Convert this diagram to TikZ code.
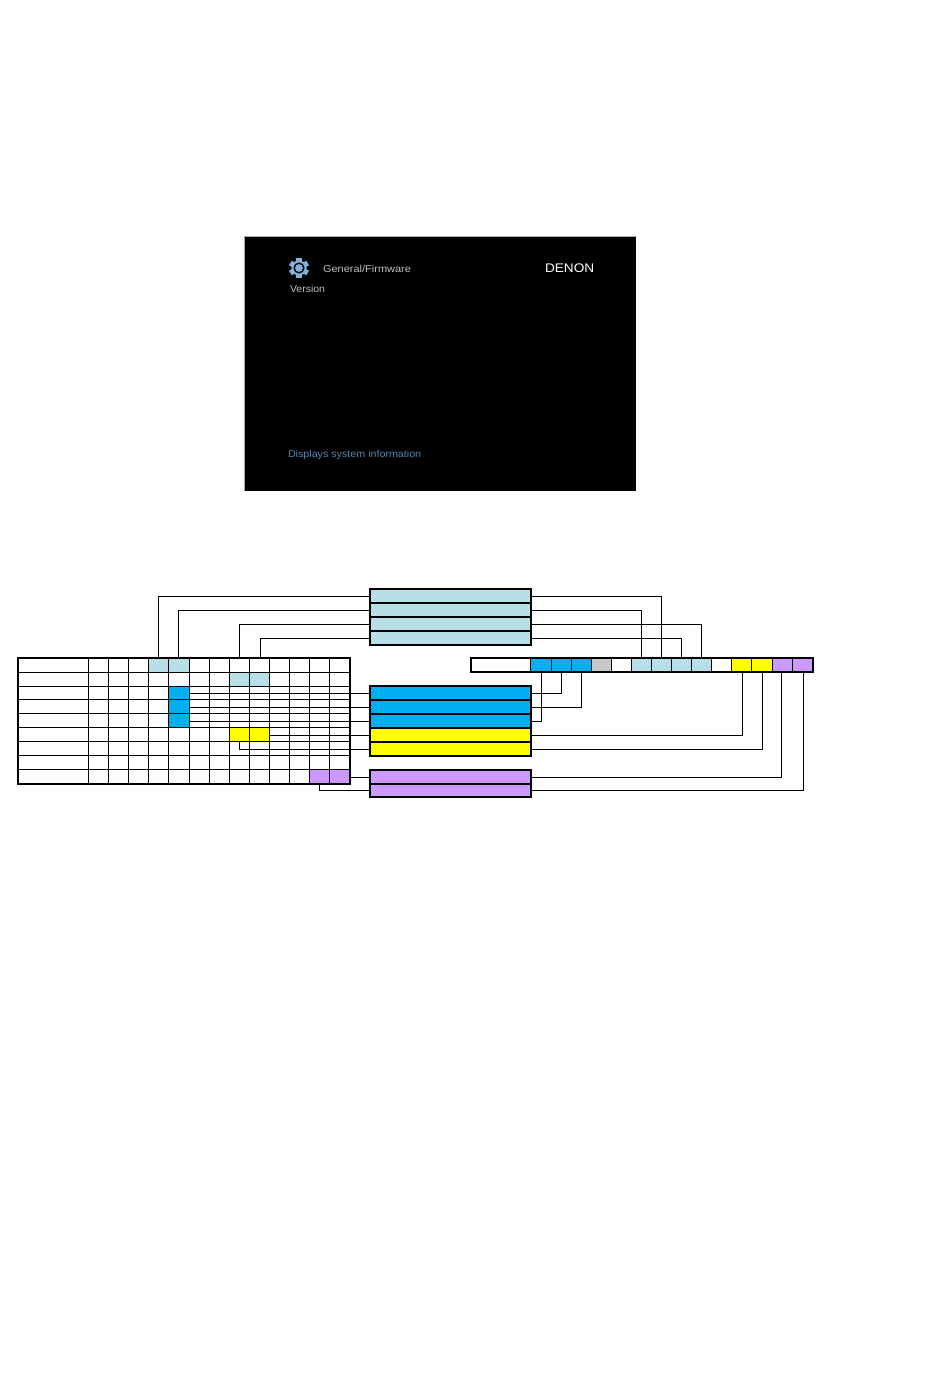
\documentclass[tikz,border=0pt]{standalone}
\usepackage{fontspec}
\setmainfont{Liberation Sans}
\definecolor{lb}{HTML}{B8DEE8}
\definecolor{bl}{HTML}{00B0F0}
\definecolor{ye}{HTML}{FFFF00}
\definecolor{pu}{HTML}{CC99FF}
\definecolor{gy}{HTML}{C8C8C8}
\definecolor{edgec}{HTML}{A8A8A8}
\definecolor{gearc}{HTML}{7FB2DC}
\definecolor{helpc}{HTML}{5585AE}
\definecolor{titlec}{HTML}{BDBDBD}
\tikzset{
  cellbox/.style={draw=black,line width=1pt,inner sep=0pt,outer sep=0pt,rectangle},
  midbox/.style={draw=black,line width=1.7pt,inner sep=0pt,outer sep=0pt,rectangle},
  link/.style={draw=black,line width=1pt},
  frameline/.style={draw=black,line width=2pt},
  screentext/.style={inner sep=0pt,outer sep=0pt,anchor=west,font=\fontsize{10}{12}\selectfont}
}
\newcommand{\placebox}[7]{%
  \pgfmathsetmacro{\bw}{#4-#2}\pgfmathsetmacro{\bh}{#5-#3}%
  \pgfmathsetmacro{\bx}{(#4+#2)/2}\pgfmathsetmacro{\by}{(#5+#3)/2}%
  \node[#7,fill=#6,minimum width=\bw pt,minimum height=\bh pt] (#1) at (\bx,\by) {};}
\expandafter\def\csname tf-0-4\endcsname{lb}
\expandafter\def\csname tf-0-5\endcsname{lb}
\expandafter\def\csname tf-1-8\endcsname{lb}
\expandafter\def\csname tf-1-9\endcsname{lb}
\expandafter\def\csname tf-2-5\endcsname{bl}
\expandafter\def\csname tf-3-5\endcsname{bl}
\expandafter\def\csname tf-4-5\endcsname{bl}
\expandafter\def\csname tf-5-8\endcsname{ye}
\expandafter\def\csname tf-5-9\endcsname{ye}
\expandafter\def\csname tf-8-12\endcsname{pu}
\expandafter\def\csname tf-8-13\endcsname{pu}
\begin{document}
\begin{tikzpicture}[x=1pt,y=-1pt]
\useasboundingbox (0,0) rectangle (950,1387);
\fill[white] (0,0) rectangle (950,1387);
% screen
\fill[black] (244,237) rectangle (635.5,490.5);
\draw[edgec,line width=1pt] (244,490.5) -- (244,236.5) -- (635.5,236.5);
\begin{scope}[shift={(299,268)}]
  \foreach \a in {0,60,...,300}
    \fill[gearc,rotate=\a] (-2.6,-10) rectangle (2.6,0);
  \fill[gearc] (0,0) circle (7.6);
  \fill[black] (0,0) circle (5.6);
  \fill[gearc] (0,0) circle (3.9);
\end{scope}
\node[screentext,text=titlec] (title) at (323,268.5) {\scalebox{1.1}[1]{General/Firmware}};
\node[screentext,text=titlec] (version) at (290,288.5) {\scalebox{1.05}[1]{Version}};
\node[screentext,text=white,font=\fontsize{12.5}{14}\selectfont] (brand) at (545,268) {\scalebox{1.09}[1]{DENON}};
\node[screentext,text=helpc] (help) at (288,454.5) {\scalebox{1.07}[1]{Displays system information}};
% left table
\foreach \r/\ya/\yb in {0/658/672.3,1/672.3/686.3,2/686.3/699.3,3/699.3/713.3,4/713.3/727.3,5/727.3/741.3,6/741.3/755.3,7/755.3/769.3,8/769.3/783.7}{
  \foreach \c/\xa/\xb in {0/18/88.5,1/88.5/108.5,2/108.5/128.5,3/128.5/148.5,4/148.5/168.5,5/168.5/189.3,6/189.3/209.3,7/209.3/229.3,8/229.3/249.3,9/249.3/269.3,10/269.3/289.3,11/289.3/309.3,12/309.3/329.5,13/329.5/350}{
    \edef\thefill{\ifcsname tf-\r-\c\endcsname\csname tf-\r-\c\endcsname\else white\fi}
    \placebox{t-\r-\c}{\xa}{\ya}{\xb}{\yb}{\thefill}{cellbox}
  }
}
\draw[frameline] (t-0-0.north west) rectangle (t-8-13.south east);
% right bar
\foreach \c/\xa/\xb/\f in {0/471/530.5/white,1/530.5/551/bl,2/551/571.5/bl,3/571.5/591.5/bl,4/591.5/611.5/gy,5/611.5/631.5/white,6/631.5/651.5/lb,7/651.5/671.5/lb,8/671.5/691.5/lb,9/691.5/711.5/lb,10/711.5/731.5/white,11/731.5/751.5/ye,12/751.5/772/ye,13/772/792.5/pu,14/792.5/813/pu}{
  \placebox{b-\c}{\xa}{658}{\xb}{672}{\f}{cellbox}
}
\draw[frameline] (b-0.north west) rectangle (b-14.south east);
% middle boxes
\foreach \n/\ya/\yb/\f in {1/589/603/lb,2/603/617/lb,3/617/631/lb,4/631/645/lb,5/686/700/bl,6/700/714/bl,7/714/728/bl,8/728/742/ye,9/742/756/ye,10/770/784/pu,11/784/797/pu}{
  \placebox{m-\n}{370}{\ya}{531}{\yb}{\f}{midbox}
}
% connectors: left side
\draw[link] (t-0-4.north) |- (m-1.west);
\draw[link] (t-0-5.north) |- (m-2.west);
\draw[link] (t-0-8.north) |- (m-3.west);
\draw[link] ([xshift=1pt]t-0-9.north) |- (m-4.west);
\draw[link] (m-5.west -| t-2-5.east) -- (m-5.west);
\draw[link] (m-6.west -| t-3-5.east) -- (m-6.west);
\draw[link] (m-7.west -| t-4-5.east) -- (m-7.west);
\draw[link] (m-8.west -| t-5-9.east) -- (m-8.west);
\draw[link] (t-6-8.north) |- (m-9.west);
\draw[link] (m-10.west -| t-8-13.east) -- (m-10.west);
\draw[link] (t-8-12.south) |- (m-11.west);
% connectors: right side
\draw[link] (b-7.north) |- (m-1.east);
\draw[link] (b-6.north) |- (m-2.east);
\draw[link] (b-9.north) |- (m-3.east);
\draw[link] (b-8.north) |- (m-4.east);
\draw[link] (b-2.south) |- (m-5.east);
\draw[link] (b-3.south) |- (m-6.east);
\draw[link] ([xshift=1pt]b-1.south) |- (m-7.east);
\draw[link] ([xshift=.8pt]b-11.south) |- (m-8.east);
\draw[link] ([xshift=.6pt]b-12.south) |- (m-9.east);
\draw[link] ([xshift=-.5pt]b-13.south) |- (m-10.east);
\draw[link] ([xshift=.5pt]b-14.south) |- (m-11.east);
\end{tikzpicture}
\end{document}
